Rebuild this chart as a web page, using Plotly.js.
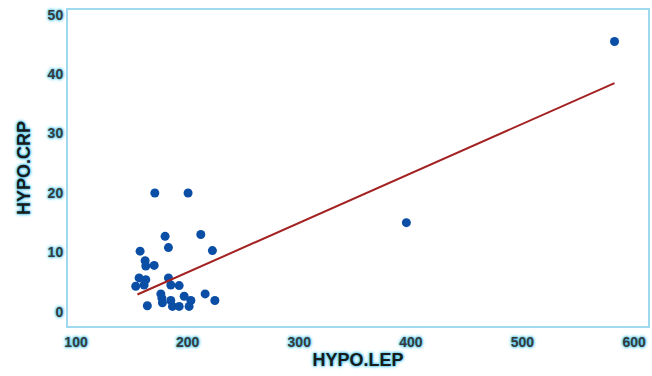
<!DOCTYPE html>
<html>
<head>
<meta charset="utf-8">
<script src="https://cdn.plot.ly/plotly-3.0.1.min.js"></script>
<style>html,body{margin:0;padding:0;background:#fff;}#chart{width:652px;height:376px;}</style>
</head>
<body>
<div id="chart"></div>
<script>
const lepValues = [170.6, 200.4, 179.8, 211.8, 182.8, 222.2, 157.4, 161.9, 162.5, 170.0,
  156.5, 162.5, 182.8, 153.5, 161.0, 184.9, 192.4, 176.0, 176.9, 163.9,
  177.4, 184.9, 186.4, 196.9, 202.9, 192.4, 201.3, 215.7, 224.4, 396.0, 582.5];
const crpValues = [20.0, 20.0, 12.7, 13.0, 10.8, 10.3, 10.2, 8.6, 7.7, 7.8,
  5.7, 5.4, 5.7, 4.3, 4.5, 4.5, 4.4, 3.0, 2.3, 1.0,
  1.5, 1.9, 0.9, 2.6, 1.9, 0.9, 0.9, 3.0, 1.9, 15.0, 45.5];
const fitX = [155, 582.5];
const fitY = [2.9, 38.5];
const xTicks = [100, 200, 300, 400, 500, 600];
const yTicks = [0, 10, 20, 30, 40, 50];

const glow = '0px 0px 2px #3fbfe8, 0px 0px 3px #3fbfe8, 0px 0px 4px #8fdcf4';
const axisCol = '#9fd9ee';

const traces = [
  {x: lepValues, y: crpValues, type: 'scatter', mode: 'markers',
   marker: {color: '#0a4ea6', size: 9}, hoverinfo: 'skip'},
  {x: fitX, y: fitY, type: 'scatter', mode: 'lines',
   line: {color: '#a32121', width: 2}, hoverinfo: 'skip'}
];
const layout = {
  width: 652, height: 376,
  margin: {l: 68, r: 4, t: 10, b: 50},
  showlegend: false,
  paper_bgcolor: '#fff', plot_bgcolor: '#fff',
  font: {family: 'Liberation Sans, Arial, sans-serif', color: '#333'},
  xaxis: {
    range: [92.8, 612.5], tickvals: xTicks, ticktext: xTicks.map(String),
    showgrid: false, zeroline: false, showline: true, mirror: true,
    linecolor: axisCol, linewidth: 2, ticks: 'outside', ticklen: 2, tickcolor: 'rgba(0,0,0,0)',
    tickfont: {size: 14, color: '#3a3a3a', shadow: glow, weight: 'bold'},
    title: {text: 'HYPO.LEP', standoff: 4,
      font: {size: 18, color: '#1a1a1a', weight: 'bold', shadow: glow}}
  },
  yaxis: {
    range: [-2.4, 50.8], tickvals: yTicks, ticktext: yTicks.map(String),
    showgrid: false, zeroline: false, showline: true, mirror: true,
    linecolor: axisCol, linewidth: 2, ticks: '', ticklen: 0,
    tickfont: {size: 14, color: '#3a3a3a', shadow: glow, weight: 'bold'},
    title: {text: 'HYPO.CRP', standoff: 12,
      font: {size: 18, color: '#1a1a1a', weight: 'bold', shadow: glow}}
  }
};
Plotly.newPlot('chart', traces, layout, {displayModeBar: false, staticPlot: true});
</script>
</body>
</html>
